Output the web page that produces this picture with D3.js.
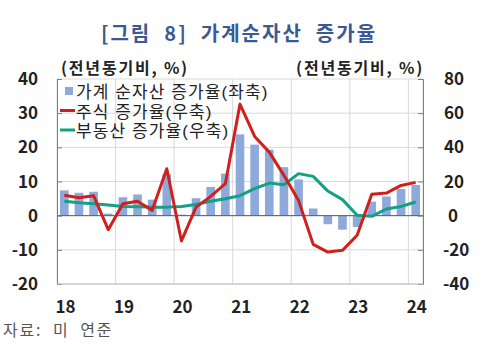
<!DOCTYPE html>
<html><head><meta charset="utf-8">
<script src="https://cdn.jsdelivr.net/npm/d3@7"></script>
<style>
body{margin:0;background:#fff;}
text{font-family:"Noto Sans CJK KR","Noto Sans",sans-serif;white-space:pre;}
text.lg{font-family:"Liberation Sans","Noto Sans CJK KR",sans-serif;}
</style></head>
<body><svg id="c" width="481" height="346"></svg>
<script>
const quarters = ["18Q1","18Q2","18Q3","18Q4","19Q1","19Q2","19Q3","19Q4","20Q1","20Q2","20Q3","20Q4",
  "21Q1","21Q2","21Q3","21Q4","22Q1","22Q2","22Q3","22Q4","23Q1","23Q2","23Q3","23Q4","24Q1"];
const netWorth = [7.4,6.7,7.0,0.6,5.4,6.2,4.7,12.1,0.3,5.1,8.4,12.3,23.8,20.8,19.3,14.2,10.6,2.1,-2.5,-4.1,-3.3,4.1,5.6,7.8,9.0];
const stocks = [11.9,10.5,11.7,-8.2,7.0,8.4,3.1,27.5,-14.8,5.0,11.3,18.7,65.3,46.4,37.2,23.6,8.9,-16.8,-21.3,-20.3,-11.5,12.5,13.2,17.7,19.5];
const realEstate = [8.4,7.6,7.0,6.2,5.4,5.2,5.0,5.0,5.4,6.6,8.4,9.9,11.7,15.8,19.1,18.1,24.6,23.0,14.4,9.4,0.2,-0.4,3.9,5.4,8.0];
const leftTicks = [-20,-10,0,10,20,30,40];
const rightTicks = [-40,-20,0,20,40,60,80];
const yearLabels = ["18","19","20","21","22","23","24"];
const legendLabels = ["가계 순자산 증가율(좌축)","주식 증가율(우축)","부동산 증가율(우축)"];

const svg = d3.select("#c");
const L = 57, R = 423, T = 79, B = 284;
const x = d3.scaleBand().domain(quarters).range([L, R]).paddingInner(0.41).paddingOuter(0.205);
const xs = d3.scaleBand().domain(quarters).range([L, R]);
const yL = d3.scaleLinear().domain([-20, 40]).range([B, T]);
const yR = d3.scaleLinear().domain([-40, 80]).range([B, T]);

// title
svg.append("text").attr("x", 239).attr("y", 41).attr("text-anchor", "middle")
  .attr("font-size", 20).attr("font-weight", "bold").attr("letter-spacing", 2)
  .attr("fill", "#3b5a93").text("[그림  8]  가계순자산  증가율");

// gridlines horizontal
svg.append("g").selectAll("line").data(leftTicks).join("line")
  .attr("x1", L).attr("x2", R).attr("y1", d => yL(d)).attr("y2", d => yL(d))
  .attr("stroke", "#d9d9d9").attr("stroke-width", 1);
// vertical year lines
const yearStarts = quarters.filter(q => q.endsWith("Q1"));
svg.append("g").selectAll("line").data(yearStarts).join("line")
  .attr("x1", d => xs(d)).attr("x2", d => xs(d)).attr("y1", T).attr("y2", B)
  .attr("stroke", "#d9d9d9").attr("stroke-width", 1);
svg.append("line").attr("x1", R).attr("x2", R).attr("y1", T).attr("y2", B).attr("stroke", "#d9d9d9");

// bars
svg.append("g").selectAll("rect").data(netWorth).join("rect")
  .attr("x", (d, i) => x(quarters[i])).attr("width", x.bandwidth())
  .attr("y", d => yL(Math.max(0, d))).attr("height", d => Math.abs(yL(d) - yL(0)))
  .attr("fill", "#8eaadb");

// zero line
svg.append("line").attr("x1", L).attr("x2", R).attr("y1", yL(0)).attr("y2", yL(0))
  .attr("stroke", "#595959").attr("stroke-width", 1);

// axes
const axL = svg.append("g").attr("transform", `translate(${L},0)`)
  .call(d3.axisRight(yL).tickValues(leftTicks).tickSize(5).tickFormat(""));
axL.select(".domain").attr("stroke", "#7f7f7f");
axL.selectAll(".tick line").attr("stroke", "#7f7f7f");
const axR = svg.append("g").attr("transform", `translate(${R},0)`)
  .call(d3.axisLeft(yR).tickValues(rightTicks).tickSize(5).tickFormat(""));
axR.select(".domain").attr("stroke", "#7f7f7f");
axR.selectAll(".tick line").attr("stroke", "#7f7f7f");
svg.append("line").attr("x1", L).attr("x2", R).attr("y1", B).attr("y2", B).attr("stroke", "#bfbfbf");

// lines
const cx = q => x(q) + x.bandwidth() / 2;
const line = d3.line().x((d, i) => cx(quarters[i])).y(d => yR(d));
svg.append("path").datum(realEstate).attr("d", line).attr("fill", "none")
  .attr("stroke", "#13a085").attr("stroke-width", 3).attr("stroke-linejoin", "round");
svg.append("path").datum(stocks).attr("d", line).attr("fill", "none")
  .attr("stroke", "#d0201c").attr("stroke-width", 3).attr("stroke-linejoin", "round");

// tick labels
svg.append("g").selectAll("text").data(leftTicks).join("text")
  .attr("x", 38).attr("y", d => yL(d) + 6).attr("text-anchor", "end")
  .attr("font-size", 17).attr("font-weight", "bold").attr("fill", "#222").text(d => d);
svg.append("g").selectAll("text").data(rightTicks).join("text")
  .attr("x", d => d < 0 ? 443 : (d === 0 ? 448 : 444)).attr("y", d => yR(d) + 6).attr("text-anchor", "start")
  .attr("font-size", 17).attr("font-weight", "bold").attr("fill", "#222").text(d => d);
svg.append("g").selectAll("text").data(yearStarts).join("text")
  .attr("x", d => xs(d) + 8.5).attr("y", 313).attr("text-anchor", "middle")
  .attr("font-size", 17).attr("font-weight", "bold").attr("fill", "#222")
  .text((d, i) => yearLabels[i]);

// unit labels
svg.append("text").attr("x", 61).attr("y", 74).attr("font-size", 16).attr("font-weight", "bold")
  .attr("letter-spacing", 1.8).attr("fill", "#222").text("(전년동기비, %)");
svg.append("text").attr("x", 424).attr("y", 74).attr("text-anchor", "end").attr("font-size", 16).attr("font-weight", "bold")
  .attr("letter-spacing", 1.8).attr("fill", "#222").text("(전년동기비, %)");

// legend
const lg = svg.append("g");
lg.append("rect").attr("x", 65).attr("y", 87).attr("width", 8).attr("height", 8).attr("fill", "#8eaadb");
lg.append("line").attr("x1", 60).attr("x2", 75).attr("y1", 110.5).attr("y2", 110.5).attr("stroke", "#d0201c").attr("stroke-width", 3);
lg.append("line").attr("x1", 60).attr("x2", 75).attr("y1", 130).attr("y2", 130).attr("stroke", "#13a085").attr("stroke-width", 3);
lg.selectAll("text").data(legendLabels).join("text").attr("class", "lg")
  .attr("x", 76).attr("y", (d, i) => 98 + i * 19.5).attr("font-size", 17).attr("letter-spacing", 1.1)
  .attr("fill", "#222").text(d => d);

// source
svg.append("text").attr("x", 3).attr("y", 336).attr("font-size", 16).attr("letter-spacing", 1.8)
  .attr("fill", "#555").text("자료:  미  연준");
</script></body></html>
